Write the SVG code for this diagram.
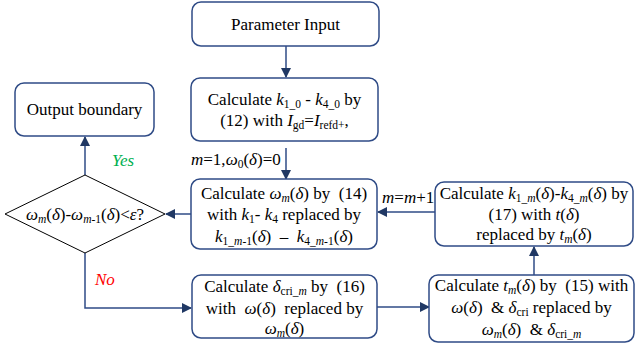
<svg xmlns="http://www.w3.org/2000/svg" width="635" height="344" viewBox="0 0 635 344">
<defs>
<marker id="ah" viewBox="0 0 10 10" refX="9" refY="5" markerWidth="10" markerHeight="10" markerUnits="userSpaceOnUse" orient="auto">
<path d="M0,0 L10,5 L0,10 z" fill="#203864"/>
</marker>
<style>
.box{fill:#fff;stroke:#2F4B86;stroke-width:1.5}
.t{font-family:"Liberation Serif","Times New Roman",serif;font-size:17px;fill:#000;white-space:pre}
.i{font-style:italic}
.s{font-size:11.5px;baseline-shift:-3px}
.c{fill:none;stroke:#2F4B86;stroke-width:1.5}
</style>
</defs>
<g id="connectors">
<line class="c" x1="286" y1="46" x2="286" y2="77" marker-end="url(#ah)"/>
<line class="c" x1="286" y1="148" x2="286" y2="179" marker-end="url(#ah)"/>
<line class="c" x1="191" y1="214" x2="166" y2="214" marker-end="url(#ah)"/>
<line class="c" x1="85" y1="175" x2="85" y2="137" marker-end="url(#ah)"/>
<polyline class="c" points="85,253 85,308 191,308" marker-end="url(#ah)"/>
<line class="c" x1="377" y1="307" x2="429" y2="307" marker-end="url(#ah)"/>
<line class="c" x1="534" y1="275" x2="534" y2="247" marker-end="url(#ah)"/>
<line class="c" x1="435" y1="212" x2="378" y2="212" marker-end="url(#ah)"/>
<text class="t" x="191" y="165"><tspan class="i">m</tspan>=1,<tspan class="i">ω</tspan><tspan class="s">0</tspan>(<tspan class="i">δ</tspan>)=0</text>
<text class="t" x="382" y="203"><tspan class="i">m</tspan>=<tspan class="i">m</tspan>+1</text>
<text class="t i" x="112" y="166" style="fill:#00B050">Yes</text>
<text class="t i" x="95" y="285" style="fill:#FF0000">No</text>
</g>
<g id="param">
<rect class="box" x="192" y="2" width="187" height="44" rx="9"/>
<text class="t" x="285.5" y="30" text-anchor="middle">Parameter Input</text>
</g>
<g id="calck0">
<rect class="box" x="191" y="78" width="187" height="63" rx="9"/>
<text class="t" x="284.5" y="105" text-anchor="middle">Calculate <tspan class="i">k</tspan><tspan class="s">1_0</tspan> - <tspan class="i">k</tspan><tspan class="s">4_0</tspan> by</text>
<text class="t" x="284.5" y="126" text-anchor="middle">(12) with <tspan class="i">I</tspan><tspan class="s">gd</tspan>=<tspan class="i">I</tspan><tspan class="s">refd+</tspan>,</text>
</g>
<g id="output">
<rect class="box" x="15" y="83" width="139" height="53" rx="9"/>
<text class="t" x="84.5" y="115" text-anchor="middle">Output boundary</text>
</g>
<g id="decision">
<polygon points="85,175 165,214 85,253 5,214" fill="#fff" stroke="#000" stroke-width="1"/>
<text class="t" x="85" y="220" text-anchor="middle"><tspan class="i">ω</tspan><tspan class="s i">m</tspan>(<tspan class="i">δ</tspan>)-<tspan class="i">ω</tspan><tspan class="s"><tspan class="i">m</tspan>-1</tspan>(<tspan class="i">δ</tspan>)&lt;<tspan class="i">ε</tspan>?</text>
</g>
<g id="calcomega">
<rect class="box" x="191" y="179" width="186" height="70" rx="9"/>
<text class="t" x="284" y="199" text-anchor="middle">Calculate <tspan class="i">ω</tspan><tspan class="s i">m</tspan>(<tspan class="i">δ</tspan>) by  (14)</text>
<text class="t" x="284" y="220" text-anchor="middle">with <tspan class="i">k</tspan><tspan class="s">1</tspan>- <tspan class="i">k</tspan><tspan class="s">4</tspan> replaced by</text>
<text class="t" x="284" y="242" text-anchor="middle"><tspan class="i">k</tspan><tspan class="s">1_<tspan class="i">m</tspan>-1</tspan>(<tspan class="i">δ</tspan>)  –  <tspan class="i">k</tspan><tspan class="s">4_<tspan class="i">m</tspan>-1</tspan>(<tspan class="i">δ</tspan>)</text>
</g>
<g id="calckm">
<rect class="box" x="435" y="182" width="198" height="64" rx="9"/>
<text class="t" x="534" y="199" text-anchor="middle">Calculate <tspan class="i">k</tspan><tspan class="s">1_<tspan class="i">m</tspan></tspan>(<tspan class="i">δ</tspan>)-<tspan class="i">k</tspan><tspan class="s">4_<tspan class="i">m</tspan></tspan>(<tspan class="i">δ</tspan>) by</text>
<text class="t" x="534" y="220" text-anchor="middle">(17) with <tspan class="i">t</tspan>(<tspan class="i">δ</tspan>)</text>
<text class="t" x="534" y="240" text-anchor="middle">replaced by <tspan class="i">t</tspan><tspan class="s i">m</tspan>(<tspan class="i">δ</tspan>)</text>
</g>
<g id="calcdelta">
<rect class="box" x="192" y="275" width="185" height="63" rx="9"/>
<text class="t" x="284.5" y="292" text-anchor="middle">Calculate <tspan class="i">δ</tspan><tspan class="s">cri_<tspan class="i">m</tspan></tspan> by  (16)</text>
<text class="t" x="284.5" y="314" text-anchor="middle">with  <tspan class="i">ω</tspan>(<tspan class="i">δ</tspan>)  replaced by</text>
<text class="t" x="284.5" y="334" text-anchor="middle"><tspan class="i">ω</tspan><tspan class="s i">m</tspan>(<tspan class="i">δ</tspan>)</text>
</g>
<g id="calct">
<rect class="box" x="429" y="275" width="205" height="67" rx="9"/>
<text class="t" x="531.5" y="291" text-anchor="middle">Calculate <tspan class="i">t</tspan><tspan class="s i">m</tspan>(<tspan class="i">δ</tspan>) by  (15) with</text>
<text class="t" x="531.5" y="313" text-anchor="middle"><tspan class="i">ω</tspan>(<tspan class="i">δ</tspan>)  &amp; <tspan class="i">δ</tspan><tspan class="s">cri</tspan> replaced by</text>
<text class="t" x="531.5" y="335" text-anchor="middle"><tspan class="i">ω</tspan><tspan class="s i">m</tspan>(<tspan class="i">δ</tspan>)  &amp; <tspan class="i">δ</tspan><tspan class="s">cri_<tspan class="i">m</tspan></tspan></text>
</g>
</svg>
